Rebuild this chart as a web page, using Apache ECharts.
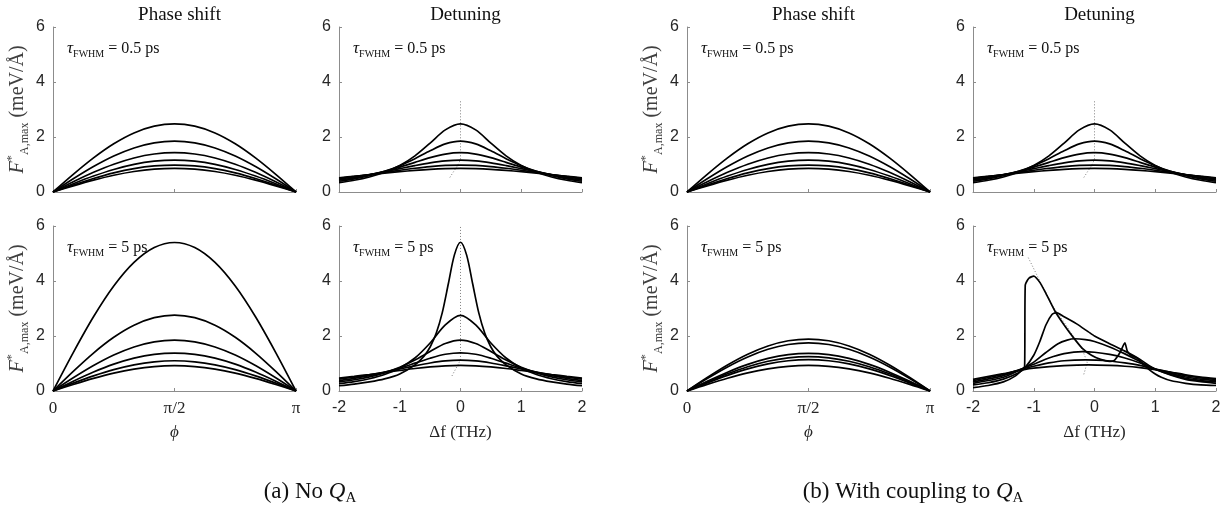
<!DOCTYPE html>
<html><head><meta charset="utf-8">
<script src="https://cdn.jsdelivr.net/npm/echarts@6/dist/echarts.min.js"></script>
<style>html,body{margin:0;padding:0;background:#fff}#c{width:1231px;height:515px}</style>
</head><body><div id="c"></div>
<script>
// ---------- data ----------
const phaseTicks = ['0', 'π/2', 'π'];           // phase in units of π
const phaseX = [0, 1/12, 2/12, 3/12, 4/12, 5/12, 6/12, 7/12, 8/12, 9/12, 10/12, 11/12, 1];
const phaseTop = [
  [0, 0.642, 1.240, 1.754, 2.148, 2.395, 2.48, 2.395, 2.148, 1.754, 1.240, 0.642, 0],
  [0, 0.479, 0.925, 1.308, 1.602, 1.787, 1.85, 1.787, 1.602, 1.308, 0.925, 0.479, 0],
  [0, 0.370, 0.715, 1.011, 1.238, 1.381, 1.43, 1.381, 1.238, 1.011, 0.715, 0.370, 0],
  [0, 0.300, 0.580, 0.820, 1.005, 1.120, 1.16, 1.120, 1.005, 0.820, 0.580, 0.300, 0],
  [0, 0.254, 0.490, 0.693, 0.849, 0.947, 0.98, 0.947, 0.849, 0.693, 0.490, 0.254, 0],
  [0, 0.223, 0.430, 0.608, 0.745, 0.831, 0.86, 0.831, 0.745, 0.608, 0.430, 0.223, 0]
];
const phaseBottomA = [
  [0, 1.398, 2.700, 3.818, 4.676, 5.216, 5.40, 5.216, 4.676, 3.818, 2.700, 1.398, 0],
  [0, 0.714, 1.380, 1.952, 2.390, 2.666, 2.76, 2.666, 2.390, 1.952, 1.380, 0.714, 0],
  [0, 0.479, 0.925, 1.308, 1.602, 1.787, 1.85, 1.787, 1.602, 1.308, 0.925, 0.479, 0],
  [0, 0.357, 0.690, 0.976, 1.195, 1.333, 1.38, 1.333, 1.195, 0.976, 0.690, 0.357, 0],
  [0, 0.285, 0.550, 0.778, 0.953, 1.062, 1.10, 1.062, 0.953, 0.778, 0.550, 0.285, 0],
  [0, 0.238, 0.460, 0.651, 0.797, 0.889, 0.92, 0.889, 0.797, 0.651, 0.460, 0.238, 0]
];
const phaseBottomB = [
  [0, 0.489, 0.945, 1.336, 1.637, 1.826, 1.89, 1.826, 1.637, 1.336, 0.945, 0.489, 0],
  [0, 0.453, 0.875, 1.237, 1.516, 1.690, 1.75, 1.690, 1.516, 1.237, 0.875, 0.453, 0],
  [0, 0.355, 0.685, 0.969, 1.186, 1.323, 1.37, 1.323, 1.186, 0.969, 0.685, 0.355, 0],
  [0, 0.324, 0.625, 0.884, 1.083, 1.207, 1.25, 1.207, 1.083, 0.884, 0.625, 0.324, 0],
  [0, 0.295, 0.570, 0.806, 0.987, 1.101, 1.14, 1.101, 0.987, 0.806, 0.570, 0.295, 0],
  [0, 0.241, 0.465, 0.658, 0.805, 0.898, 0.93, 0.898, 0.805, 0.658, 0.465, 0.241, 0]
];
const detuneX = [-2, -1.75, -1.5, -1.25, -1, -0.75, -0.5, -0.25, 0, 0.25, 0.5, 0.75, 1, 1.25, 1.5, 1.75, 2];
const detuneTop = [
  [0.340, 0.426, 0.546, 0.717, 0.962, 1.315, 1.779, 2.258, 2.48, 2.258, 1.779, 1.315, 0.962, 0.717, 0.546, 0.426, 0.340],
  [0.390, 0.479, 0.596, 0.751, 0.956, 1.212, 1.499, 1.748, 1.85, 1.748, 1.499, 1.212, 0.956, 0.751, 0.596, 0.479, 0.390],
  [0.429, 0.513, 0.619, 0.748, 0.903, 1.077, 1.248, 1.380, 1.43, 1.380, 1.248, 1.077, 0.903, 0.748, 0.619, 0.513, 0.429],
  [0.470, 0.546, 0.635, 0.737, 0.848, 0.961, 1.062, 1.134, 1.16, 1.134, 1.062, 0.961, 0.848, 0.737, 0.635, 0.546, 0.470],
  [0.500, 0.565, 0.636, 0.712, 0.790, 0.863, 0.924, 0.965, 0.98, 0.965, 0.924, 0.863, 0.790, 0.712, 0.636, 0.565, 0.500],
  [0.519, 0.573, 0.628, 0.685, 0.739, 0.787, 0.826, 0.851, 0.86, 0.851, 0.826, 0.787, 0.739, 0.685, 0.628, 0.573, 0.519]
];
const narrowX = [-2, -1.75, -1.5, -1.25, -1, -0.75, -0.6, -0.5, -0.4, -0.3, -0.2, -0.1, 0, 0.1, 0.2, 0.3, 0.4, 0.5, 0.6, 0.75, 1, 1.25, 1.5, 1.75, 2];
const narrowBottomA = [0.19, 0.25, 0.33, 0.44, 0.62, 0.95, 1.27, 1.6, 2.1, 2.85, 3.9, 4.95, 5.41, 4.95, 3.9, 2.85, 2.1, 1.6, 1.27, 0.95, 0.62, 0.44, 0.33, 0.25, 0.19];
const detuneBottomA = [
  [0.270, 0.342, 0.446, 0.599, 0.834, 1.199, 1.746, 2.404, 2.75, 2.404, 1.746, 1.199, 0.834, 0.599, 0.446, 0.342, 0.270],
  [0.330, 0.409, 0.515, 0.661, 0.860, 1.123, 1.436, 1.726, 1.85, 1.726, 1.436, 1.123, 0.860, 0.661, 0.515, 0.409, 0.330],
  [0.380, 0.458, 0.557, 0.682, 0.835, 1.012, 1.192, 1.335, 1.39, 1.335, 1.192, 1.012, 0.835, 0.682, 0.557, 0.458, 0.380],
  [0.430, 0.502, 0.589, 0.688, 0.799, 0.914, 1.018, 1.093, 1.12, 1.093, 1.018, 0.914, 0.799, 0.688, 0.589, 0.502, 0.430],
  [0.470, 0.532, 0.600, 0.673, 0.747, 0.818, 0.876, 0.916, 0.93, 0.916, 0.876, 0.818, 0.747, 0.673, 0.600, 0.532, 0.470]
];
// coupled case, tau = 5 ps
const b1X = [-2, -1.75, -1.5, -1.3, -1.18, -1.15, -1.14, -1.08, -1.0, -0.9, -0.8, -0.65, -0.5, -0.35, -0.2, -0.05, 0.1, 0.25, 0.32, 0.42, 0.5, 0.54, 0.6, 0.7, 0.8, 0.9, 1.0, 1.1, 1.25, 1.5, 1.75, 2.0];
const b1Y = [0.12, 0.2, 0.33, 0.55, 0.8, 0.9, 3.85, 4.1, 4.18, 3.95, 3.55, 2.9, 2.4, 1.95, 1.55, 1.3, 1.15, 1.08, 1.1, 1.4, 1.75, 1.45, 1.3, 1.2, 0.98, 0.78, 0.62, 0.5, 0.38, 0.28, 0.22, 0.2];
const b2X = [-2, -1.75, -1.5, -1.25, -1.15, -1.0, -0.9, -0.8, -0.7, -0.63, -0.5, -0.3, -0.1, 0, 0.25, 0.5, 0.75, 0.9, 1.0, 1.25, 1.5, 1.75, 2];
const b2Y = [0.22, 0.3, 0.43, 0.66, 0.83, 1.3, 1.8, 2.4, 2.78, 2.85, 2.7, 2.45, 2.15, 2.0, 1.72, 1.45, 1.15, 0.92, 0.8, 0.58, 0.42, 0.34, 0.28];
const b3X = [-2, -1.5, -1.18, -1.0, -0.8, -0.6, -0.45, -0.33, -0.15, 0, 0.25, 0.5, 0.75, 0.9, 1.0, 1.25, 1.5, 1.75, 2];
const b3Y = [0.28, 0.5, 0.82, 1.05, 1.4, 1.72, 1.85, 1.9, 1.87, 1.8, 1.6, 1.35, 1.07, 0.88, 0.78, 0.6, 0.46, 0.38, 0.33];
const b4X = [-2, -1.5, -1.18, -1.0, -0.75, -0.5, -0.2, 0, 0.25, 0.5, 0.75, 0.9, 1.0, 1.25, 1.5, 1.75, 2];
const b4Y = [0.33, 0.56, 0.82, 0.97, 1.2, 1.36, 1.43, 1.41, 1.33, 1.2, 1.02, 0.88, 0.8, 0.64, 0.51, 0.43, 0.38];
const b5X = [-2, -1.5, -1.18, -1.0, -0.75, -0.5, -0.15, 0.25, 0.5, 0.75, 0.9, 1.0, 1.25, 1.5, 1.75, 2];
const b5Y = [0.38, 0.6, 0.8, 0.9, 1.02, 1.1, 1.13, 1.09, 1.02, 0.93, 0.85, 0.8, 0.68, 0.56, 0.48, 0.42];
const b6X = [-2, -1.5, -1.18, -1.0, -0.5, -0.1, 0.25, 0.5, 0.75, 1.0, 1.25, 1.5, 1.75, 2];
const b6Y = [0.42, 0.63, 0.77, 0.83, 0.92, 0.95, 0.93, 0.9, 0.85, 0.78, 0.69, 0.59, 0.51, 0.45];
// dotted peak-trace lines
const dotTopX = [-0.175, -0.12, -0.06, -0.02, 0, 0];
const dotTopY = [0.53, 0.72, 0.92, 1.08, 1.2, 3.3];
const dotBotAX = [-0.14, -0.08, -0.03, 0, 0];
const dotBotAY = [0.55, 0.8, 1.0, 1.15, 6];
const dotBotBX = [-1.09, -0.9, -0.68, -0.5, -0.35, -0.2, -0.12, -0.15, -0.18];
const dotBotBY = [4.85, 4.0, 3.07, 2.5, 2.0, 1.5, 1.05, 0.8, 0.58];

// ---------- chart ----------
const zip = (xs, ys) => xs.map((x, i) => [x, ys[i]]);
const SERIF = '"Liberation Serif", "DejaVu Serif", serif';
const SANS = '"Liberation Sans", Arial, sans-serif';
const AX = '#8c8c8c';
const TXT = '#262626';

const L = [53, 339, 687, 973], W = 243, T = [27, 226], H = 165;
const gridDefs = [[0, 0], [1, 0], [0, 1], [1, 1], [2, 0], [3, 0], [2, 1], [3, 1]];
const grids = gridDefs.map(([c, r]) => ({ left: L[c], top: T[r], width: W, height: H }));

const yName = '{f|F}{sup|*}{sub|A,max}{n| (meV/Å)}';
const yRich = {
  f: { fontFamily: SERIF, fontStyle: 'italic', fontSize: 20, color: '#404040', lineHeight: 26, fontWeight: 'normal' },
  sup: { fontFamily: SERIF, fontSize: 13, color: '#404040', verticalAlign: 'top', lineHeight: 26, fontWeight: 'normal' },
  sub: { fontFamily: SERIF, fontSize: 12, color: '#404040', verticalAlign: 'bottom', lineHeight: 26, fontWeight: 'normal' },
  n: { fontFamily: SERIF, fontSize: 20, color: '#404040', lineHeight: 26, fontWeight: 'normal' }
};

const xAxes = gridDefs.map(([c, r], i) => {
  const isPhase = c % 2 === 0;
  const bottom = r === 1;
  return {
    gridIndex: i, type: 'value',
    min: isPhase ? 0 : -2, max: isPhase ? 1 : 2, interval: isPhase ? 0.5 : 1,
    axisLine: { onZero: false, lineStyle: { color: AX, width: 1 } },
    axisTick: { inside: true, length: 3, lineStyle: { color: AX } },
    splitLine: { show: false },
    axisLabel: {
      show: bottom, margin: 9, color: TXT,
      fontFamily: isPhase ? SERIF : SANS, fontSize: isPhase ? 17 : 16,
      formatter: isPhase ? (v => phaseTicks[Math.round(v * 2)]) : (v => String(v))
    },
    name: bottom ? (isPhase ? 'ϕ' : 'Δf (THz)') : '',
    nameLocation: 'middle', nameGap: 33,
    nameTextStyle: { fontFamily: SERIF, fontSize: 17, color: TXT, fontStyle: isPhase ? 'italic' : 'normal' }
  };
});
const yAxes = gridDefs.map(([c, r], i) => ({
  gridIndex: i, type: 'value', min: 0, max: 6, interval: 2,
  axisLine: { show: true, onZero: false, lineStyle: { color: AX, width: 1 } },
  axisTick: { show: true, inside: true, length: 3, lineStyle: { color: AX } },
  splitLine: { show: false },
  axisLabel: { margin: 8, color: TXT, fontFamily: SANS, fontSize: 16 },
  name: c % 2 === 0 ? yName : '',
  nameLocation: 'middle', nameGap: 22,
  nameTextStyle: { rich: yRich }
}));

const series = [];
const line = (gi, data, extra) => series.push(Object.assign({
  type: 'line', xAxisIndex: gi, yAxisIndex: gi, data, showSymbol: false, symbol: 'none',
  smooth: 0.3, silent: true,
  lineStyle: { color: '#000', width: 1.7 }
}, extra || {}));
const dotted = (gi, data) => line(gi, data, { smooth: false, lineStyle: { color: '#808080', width: 1, type: [1, 2] }, z: 1 });

phaseTop.forEach(ys => { line(0, zip(phaseX, ys)); line(4, zip(phaseX, ys)); });
phaseBottomA.forEach(ys => line(2, zip(phaseX, ys)));
phaseBottomB.forEach(ys => line(6, zip(phaseX, ys)));
detuneTop.forEach(ys => { line(1, zip(detuneX, ys)); line(5, zip(detuneX, ys)); });
line(3, zip(narrowX, narrowBottomA));
detuneBottomA.forEach(ys => line(3, zip(detuneX, ys)));
[[b1X, b1Y], [b2X, b2Y], [b3X, b3Y], [b4X, b4Y], [b5X, b5Y], [b6X, b6Y]].forEach(([xs, ys]) => line(7, zip(xs, ys), { smooth: 0.2 }));
dotted(1, zip(dotTopX, dotTopY));
dotted(5, zip(dotTopX, dotTopY));
dotted(3, zip(dotBotAX, dotBotAY));
dotted(7, zip(dotBotBX, dotBotBY));

const tauRich = {
  t: { fontFamily: SERIF, fontStyle: 'italic', fontSize: 17, color: '#111', lineHeight: 20, fontWeight: 'normal' },
  s: { fontFamily: SERIF, fontSize: 10, color: '#111', verticalAlign: 'bottom', lineHeight: 20, fontWeight: 'normal' },
  n: { fontFamily: SERIF, fontSize: 16, color: '#111', lineHeight: 20, fontWeight: 'normal' }
};
const titles = [];
['Phase shift', 'Detuning', 'Phase shift', 'Detuning'].forEach((t, k) => titles.push({
  text: t, left: L[k] + W / 2, top: 1, textAlign: 'center',
  textStyle: { fontFamily: SERIF, fontSize: 19, fontWeight: 'normal', color: '#111' }
}));
L.forEach(x => {
  titles.push({ text: '{t|τ}{s|FWHM}{n| = 0.5 ps}', left: x + 9, top: T[0] + 7, textStyle: { fontWeight: 'normal', rich: tauRich } });
  titles.push({ text: '{t|τ}{s|FWHM}{n| = 5 ps}', left: x + 9, top: T[1] + 7, textStyle: { fontWeight: 'normal', rich: tauRich } });
});
const capRich = {
  a: { fontFamily: SERIF, fontSize: 23, color: '#111', fontWeight: 'normal', lineHeight: 28 },
  q: { fontFamily: SERIF, fontStyle: 'italic', fontSize: 23, color: '#111', fontWeight: 'normal', lineHeight: 28 },
  s: { fontFamily: SERIF, fontSize: 15, color: '#111', verticalAlign: 'bottom', lineHeight: 28, fontWeight: 'normal' }
};
titles.push({ text: '{a|(a) No }{q|Q}{s|A}', left: 305, top: 473, textAlign: 'center', textStyle: { fontWeight: 'normal', rich: capRich } });
titles.push({ text: '{a|(b) With coupling to }{q|Q}{s|A}', left: 908, top: 473, textAlign: 'center', textStyle: { fontWeight: 'normal', rich: capRich } });

const chart = echarts.init(document.getElementById('c'), null, { renderer: 'canvas' });
chart.setOption({
  animation: false, backgroundColor: '#fff',
  title: titles, grid: grids, xAxis: xAxes, yAxis: yAxes, series
});
</script></body></html>
